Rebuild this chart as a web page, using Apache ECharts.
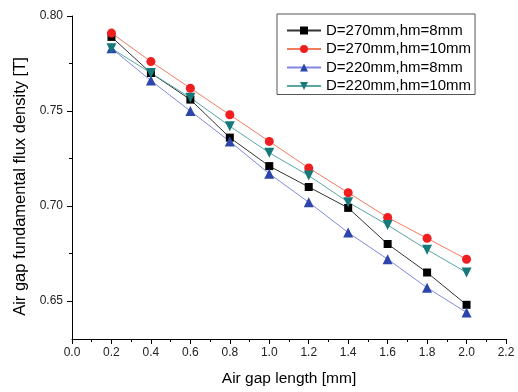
<!DOCTYPE html>
<html><head><meta charset="utf-8">
<script src="https://cdn.jsdelivr.net/npm/echarts@6/dist/echarts.min.js"></script>
<style>html,body{margin:0;padding:0;background:#fff}#c{width:518px;height:392px}</style>
</head><body><div id="c"></div>
<script>
const xValues = [0.2,0.4,0.6,0.8,1.0,1.2,1.4,1.6,1.8,2.0];
const seriesNames = ['D=270mm,hm=8mm','D=270mm,hm=10mm','D=220mm,hm=8mm','D=220mm,hm=10mm'];
const d270hm8  = [0.789,0.770,0.756,0.736,0.721,0.710,0.699,0.680,0.665,0.648];
const d270hm10 = [0.791,0.776,0.762,0.748,0.734,0.720,0.707,0.694,0.683,0.672];
const d220hm8  = [0.783,0.766,0.750,0.734,0.717,0.702,0.686,0.672,0.657,0.644];
const d220hm10 = [0.783,0.770,0.757,0.742,0.728,0.716,0.702,0.690,0.677,0.665];
const yMajorTicks = [0.65,0.70,0.75,0.80];
const yMinorTicks = [0.675,0.725,0.775];

const font = 'Liberation Sans, Arial, sans-serif';
const chart = echarts.init(document.getElementById('c'));
function mk(name, vals, sym, lineColor, markColor, size){
  return {name, type:'line', data: xValues.map((x,i)=>[x, vals[i]]),
    symbol: sym, symbolSize: size, showSymbol:true,
    lineStyle:{color: lineColor, width:1},
    itemStyle:{color: markColor},
    emphasis:{disabled:true}, animation:false, yAxisIndex:0};
}
const triDown = 'path://M0,0 L10,0 L5,9 Z';
chart.setOption({
  animation:false,
  grid:{left:72, right:12, top:16, bottom:50},
  legend:{
    orient:'vertical', left:277, top:14,
    backgroundColor:'#fff', borderColor:'#555', borderWidth:1,
    padding:[9,4,1,9], itemGap:3.5, itemWidth:34, itemHeight:10,
    textStyle:{fontFamily:font, fontSize:15, lineHeight:15, color:'#000'},
    data: seriesNames
  },
  xAxis:{type:'value', min:0, max:2.2, interval:0.2,
    axisLine:{lineStyle:{color:'#000', width:1}},
    axisTick:{show:true, inside:false, length:5, lineStyle:{color:'#000'}},
    minorTick:{show:true, splitNumber:2, length:3, lineStyle:{color:'#000'}},
    splitLine:{show:false},
    axisLabel:{formatter:v=>v.toFixed(1), fontFamily:font, fontSize:12, color:'#222', margin:8},
    name:'Air gap length [mm]', nameLocation:'middle', nameGap:32,
    nameTextStyle:{fontFamily:font, fontSize:15.5, color:'#000'}
  },
  yAxis:[{type:'value', min:0.63, max:0.80,
    axisLine:{show:true, lineStyle:{color:'#000', width:1}},
    axisTick:{show:true, customValues:yMajorTicks, length:5, lineStyle:{color:'#000'}},
    axisLabel:{customValues:yMajorTicks, formatter:v=>v.toFixed(2), fontFamily:font, fontSize:12, color:'#222', margin:9},
    splitLine:{show:false},
    name:'Air gap fundamental flux density [T]', nameLocation:'middle', nameGap:42,
    nameTextStyle:{fontFamily:font, fontSize:16.5, color:'#000', padding:[0,18,0,0]}
  },{type:'value', min:0.63, max:0.80, position:'left',
    axisLine:{show:false},
    axisTick:{show:true, customValues:yMinorTicks, length:3, lineStyle:{color:'#000'}},
    axisLabel:{show:false}, splitLine:{show:false}
  }],
  series:[
    mk(seriesNames[0], d270hm8, 'rect', '#333', '#000', 8),
    mk(seriesNames[1], d270hm10, 'circle', '#f47a5e', '#f01e1e', 9),
    mk(seriesNames[2], d220hm8, 'triangle', '#8088dd', '#2b45aa', 10),
    mk(seriesNames[3], d220hm10, triDown, '#5aa5a5', '#177a7a', 10)
  ]
});
</script></body></html>
